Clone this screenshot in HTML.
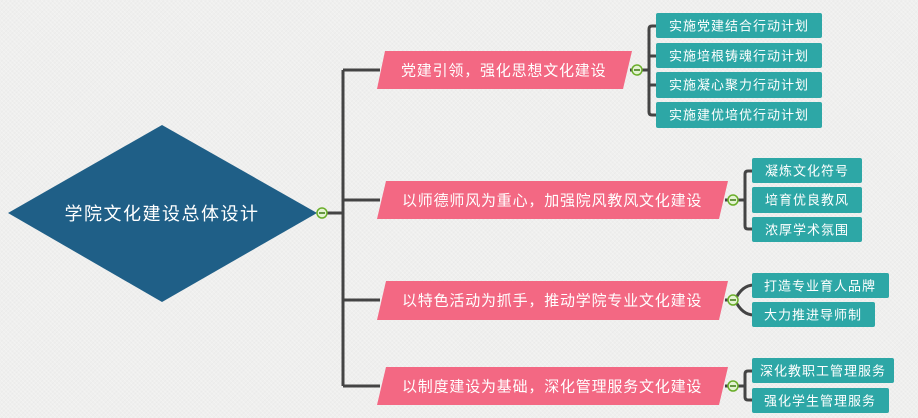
<!DOCTYPE html>
<html><head><meta charset="utf-8">
<style>
html,body{margin:0;padding:0;}
body{width:918px;height:418px;overflow:hidden;background:#efefee;
background-image:repeating-linear-gradient(45deg,rgba(255,255,255,0.25) 0 1px,transparent 1px 3px),repeating-linear-gradient(-45deg,rgba(210,210,210,0.15) 0 1px,transparent 1px 3px);}
svg{position:absolute;left:0;top:0;}
text{font-family:"Liberation Sans","Noto Sans CJK SC",sans-serif;fill:#fff;}
</style></head><body>
<svg width="918" height="418" viewBox="0 0 918 418" xmlns="http://www.w3.org/2000/svg">
<g stroke="#444" stroke-width="3" fill="none" stroke-linejoin="round">
  <line x1="317" y1="213" x2="343" y2="213"/>
  <line x1="343" y1="70" x2="343" y2="386"/>
  <line x1="343" y1="70" x2="380" y2="70"/>
  <line x1="343" y1="200" x2="380" y2="200"/>
  <line x1="343" y1="300" x2="380" y2="300"/>
  <line x1="343" y1="386" x2="380" y2="386"/>
  <line x1="630" y1="70" x2="649" y2="70"/>
  <path d="M656 26 H652 Q649 26 649 29 V112 Q649 115 652 115 H656"/>
  <line x1="649" y1="56" x2="656" y2="56"/>
  <line x1="649" y1="85" x2="656" y2="85"/>
  <line x1="725" y1="200" x2="745" y2="200"/>
  <path d="M752 171 H748 Q745 171 745 174 V226 Q745 229 748 229 H752"/>
  <line x1="725" y1="300" x2="735" y2="300"/>
  <path d="M735 300 Q742 285 754 285"/>
  <path d="M735 300 Q742 315 754 315"/>
  <line x1="725" y1="386" x2="745" y2="386"/>
  <path d="M752 371 H748 Q745 371 745 374 V397 Q745 400 748 400 H752"/>
</g>

<polygon points="8,213 162,125 317,213 162,302" fill="#1f5f87"/>
<text x="162" y="214" font-size="18" text-anchor="middle" dominant-baseline="central" letter-spacing="1.5">学院文化建设总体设计</text>

<g fill="#f36883">
  <polygon points="385,51 632,51 623,89 377,89"/>
  <polygon points="386,181 728,181 719,219 377,219"/>
  <polygon points="386,281 728,281 719,320 377,320"/>
  <polygon points="386,367 728,367 719,405 377,405"/>
</g>
<g font-size="15" dominant-baseline="central" letter-spacing="0.8">
  <text x="401" y="71">党建引领，强化思想文化建设</text>
  <text x="402" y="201">以师德师风为重心，加强院风教风文化建设</text>
  <text x="402" y="301">以特色活动为抓手，推动学院专业文化建设</text>
  <text x="402" y="387">以制度建设为基础，深化管理服务文化建设</text>
</g>

<g fill="#2da7a6">
  <rect x="656" y="13" width="166" height="25" rx="2"/>
  <rect x="656" y="43" width="166" height="25" rx="2"/>
  <rect x="656" y="72" width="166" height="26" rx="2"/>
  <rect x="656" y="102" width="166" height="26" rx="2"/>
  <rect x="752" y="158" width="110" height="25" rx="2"/>
  <rect x="752" y="187" width="110" height="26" rx="2"/>
  <rect x="752" y="217" width="110" height="25" rx="2"/>
  <rect x="752" y="273" width="137" height="25" rx="2"/>
  <rect x="752" y="302" width="123" height="25" rx="2"/>
  <rect x="752" y="358" width="142" height="25" rx="2"/>
  <rect x="752" y="388" width="137" height="25" rx="2"/>
</g>
<g font-size="13" dominant-baseline="central" text-anchor="middle" letter-spacing="1">
  <text x="739" y="26">实施党建结合行动计划</text>
  <text x="739" y="56">实施培根铸魂行动计划</text>
  <text x="739" y="85">实施凝心聚力行动计划</text>
  <text x="739" y="115">实施建优培优行动计划</text>
  <text x="807" y="171">凝炼文化符号</text>
  <text x="807" y="200">培育优良教风</text>
  <text x="807" y="230">浓厚学术氛围</text>
  <text x="820" y="286">打造专业育人品牌</text>
  <text x="813" y="315">大力推进导师制</text>
  <text x="823" y="371">深化教职工管理服务</text>
  <text x="820" y="401">强化学生管理服务</text>
</g>

<g>
  <g transform="translate(322,213)"><circle r="5" fill="#e4f3d2" stroke="#6aae2a" stroke-width="1.5"/><line x1="-3" y1="0" x2="3" y2="0" stroke="#3d7a12" stroke-width="1.5"/></g>
  <g transform="translate(637,70)"><circle r="5" fill="#e4f3d2" stroke="#6aae2a" stroke-width="1.5"/><line x1="-3" y1="0" x2="3" y2="0" stroke="#3d7a12" stroke-width="1.5"/></g>
  <g transform="translate(733,200)"><circle r="5" fill="#e4f3d2" stroke="#6aae2a" stroke-width="1.5"/><line x1="-3" y1="0" x2="3" y2="0" stroke="#3d7a12" stroke-width="1.5"/></g>
  <g transform="translate(733,300)"><circle r="5" fill="#e4f3d2" stroke="#6aae2a" stroke-width="1.5"/><line x1="-3" y1="0" x2="3" y2="0" stroke="#3d7a12" stroke-width="1.5"/></g>
  <g transform="translate(733,386)"><circle r="5" fill="#e4f3d2" stroke="#6aae2a" stroke-width="1.5"/><line x1="-3" y1="0" x2="3" y2="0" stroke="#3d7a12" stroke-width="1.5"/></g>
</g>
</svg>
</body></html>
